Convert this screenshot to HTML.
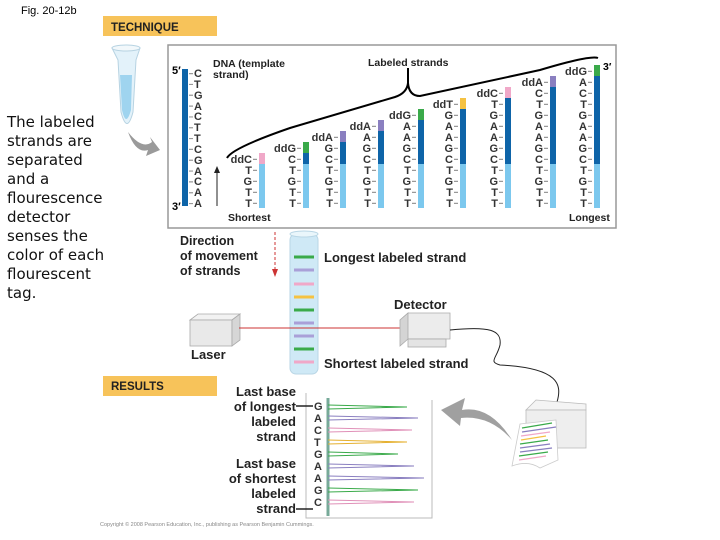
<!DOCTYPE html>
<html><head><meta charset="utf-8"><style>
html,body{margin:0;padding:0;background:#fff}
svg{display:block;font-family:"Liberation Sans",Arial,sans-serif}
</style></head><body>
<svg width="720" height="540" viewBox="0 0 720 540" xmlns="http://www.w3.org/2000/svg">
<text x="21" y="14" font-size="11">Fig. 20-12b</text>
<rect x="103" y="16" width="114" height="20" fill="#f7c35a"/>
<text x="111" y="31" font-size="11.5" font-weight="bold" fill="#222">TECHNIQUE</text>
<rect x="103" y="376" width="114" height="20" fill="#f7c35a"/>
<text x="111" y="390" font-size="11.5" font-weight="bold" fill="#222">RESULTS</text>

<g font-size="15" fill="#111" font-family="'DejaVu Sans',sans-serif">
<text x="7" y="127">The labeled</text><text x="7" y="146">strands are</text><text x="7" y="165">separated</text><text x="7" y="184">and a</text><text x="7" y="203">flourescence</text><text x="7" y="222">detector</text><text x="7" y="241">senses the</text><text x="7" y="260">color of each</text><text x="7" y="279">flourescent</text><text x="7" y="298">tag.</text>
</g>

<!-- tube -->
<path d="M112,48 L140,48 L136,60 L133,112 Q127,135 121,112 L118,60 Z" fill="#e3f2fa" stroke="#b7d3e2"/>
<path d="M120,75 L132,75 L131,110 Q126,128 122,110 Z" fill="#9fd4ef"/>
<ellipse cx="126" cy="48" rx="14" ry="3" fill="#f2f8fb" stroke="#b7d3e2"/>
<path d="M128,132 Q142,150 152,142 L150,137 L160,150 L146,156 L148,150 Q136,154 128,132 Z" fill="#9a9a9a"/>

<!-- top box -->
<rect x="168" y="45" width="448" height="183" fill="none" stroke="#999" stroke-width="1.5"/>
<text x="172" y="74" font-size="11" font-weight="bold">5′</text>
<text x="172" y="210" font-size="11" font-weight="bold">3′</text>
<rect x="182" y="69" width="6" height="137" fill="#0e64a8"/>
<line x1="191" y1="73" x2="191" y2="206" stroke="#999" stroke-width="4" stroke-dasharray="1.2 9.63"/>
<text font-size="11" font-weight="bold" fill="#333" x="194 194 194 194 194 194 194 194 194 194 194 194 194" y="77 88 99 110 120 131 142 153 164 175 185 196 207">CTGACTTCGACAA</text>
<text x="213" y="67" font-size="10.5" font-weight="bold" fill="#222">DNA (template</text>
<text x="213" y="78" font-size="10.5" font-weight="bold" fill="#222">strand)</text>
<text x="368" y="66" font-size="10.5" font-weight="bold" fill="#222">Labeled strands</text>
<path d="M227,158 Q232,148 290,128 L395,97 Q407,93 408,83 L408,68 M408,83 Q409,96 420,96 L540,70 Q590,55 598,58" fill="none" stroke="#000" stroke-width="2"/>
<line x1="217" y1="206" x2="217" y2="172" stroke="#222" stroke-width="1"/>
<path d="M214,173 L217,166 L220,173 Z" fill="#222"/>
<text x="228" y="221" font-size="10.5" font-weight="bold" fill="#222">Shortest</text>
<text x="569" y="221" font-size="10.5" font-weight="bold" fill="#222">Longest</text>
<text x="603" y="70" font-size="10.5" font-weight="bold">3′</text>

<g>
<rect x="259" y="164" width="6" height="44" fill="#7cc8ee"/><rect x="259" y="153" width="6" height="11" fill="#f0a8c8"/>
<rect x="303" y="164" width="6" height="44" fill="#7cc8ee"/><rect x="303" y="153" width="6" height="11" fill="#0e64a8"/><rect x="303" y="142" width="6" height="11" fill="#3aaa4a"/>
<rect x="340" y="164" width="6" height="44" fill="#7cc8ee"/><rect x="340" y="142" width="6" height="22" fill="#0e64a8"/><rect x="340" y="131" width="6" height="11" fill="#8a7fc0"/>
<rect x="378" y="164" width="6" height="44" fill="#7cc8ee"/><rect x="378" y="131" width="6" height="33" fill="#0e64a8"/><rect x="378" y="120" width="6" height="11" fill="#8a7fc0"/>
<rect x="418" y="164" width="6" height="44" fill="#7cc8ee"/><rect x="418" y="120" width="6" height="44" fill="#0e64a8"/><rect x="418" y="109" width="6" height="11" fill="#3aaa4a"/>
<rect x="460" y="164" width="6" height="44" fill="#7cc8ee"/><rect x="460" y="109" width="6" height="55" fill="#0e64a8"/><rect x="460" y="98" width="6" height="11" fill="#f5c242"/>
<rect x="505" y="164" width="6" height="44" fill="#7cc8ee"/><rect x="505" y="98" width="6" height="66" fill="#0e64a8"/><rect x="505" y="87" width="6" height="11" fill="#f0a8c8"/>
<rect x="550" y="164" width="6" height="44" fill="#7cc8ee"/><rect x="550" y="87" width="6" height="77" fill="#0e64a8"/><rect x="550" y="76" width="6" height="11" fill="#8a7fc0"/>
<rect x="594" y="164" width="6" height="44" fill="#7cc8ee"/><rect x="594" y="76" width="6" height="88" fill="#0e64a8"/><rect x="594" y="65" width="6" height="11" fill="#3aaa4a"/>
</g>
<g stroke="#999" stroke-width="4" stroke-dasharray="1.2 9.8">
<line x1="255" y1="204" x2="255" y2="150"/><line x1="299" y1="204" x2="299" y2="140"/><line x1="336" y1="204" x2="336" y2="129"/><line x1="374" y1="204" x2="374" y2="118"/><line x1="414" y1="204" x2="414" y2="107"/><line x1="456" y1="204" x2="456" y2="96"/><line x1="501" y1="204" x2="501" y2="85"/><line x1="546" y1="204" x2="546" y2="74"/><line x1="590" y1="204" x2="590" y2="63"/>
</g>
<g font-size="11" font-weight="bold" fill="#333" text-anchor="end">
<text x="252 252 252 252" y="207 196 185 174">TTGT</text><text x="252" y="163">ddC</text>
<text x="296 296 296 296 296" y="207 196 185 174 163">TTGTC</text><text x="296" y="152">ddG</text>
<text x="333 333 333 333 333 333" y="207 196 185 174 163 152">TTGTCG</text><text x="333" y="141">ddA</text>
<text x="371 371 371 371 371 371 371" y="207 196 185 174 163 152 141">TTGTCGA</text><text x="371" y="130">ddA</text>
<text x="411 411 411 411 411 411 411 411" y="207 196 185 174 163 152 141 130">TTGTCGAA</text><text x="411" y="119">ddG</text>
<text x="453 453 453 453 453 453 453 453 453" y="207 196 185 174 163 152 141 130 119">TTGTCGAAG</text><text x="453" y="108">ddT</text>
<text x="498 498 498 498 498 498 498 498 498 498" y="207 196 185 174 163 152 141 130 119 108">TTGTCGAAGT</text><text x="498" y="97">ddC</text>
<text x="543 543 543 543 543 543 543 543 543 543 543" y="207 196 185 174 163 152 141 130 119 108 97">TTGTCGAAGTC</text><text x="543" y="86">ddA</text>
<text x="587 587 587 587 587 587 587 587 587 587 587 587" y="207 196 185 174 163 152 141 130 119 108 97 86">TTGTCGAAGTCA</text><text x="587" y="75">ddG</text>
</g>

<!-- middle -->
<text x="180" y="245" font-size="12.5" font-weight="bold" fill="#222">Direction</text>
<text x="180" y="260" font-size="12.5" font-weight="bold" fill="#222">of movement</text>
<text x="180" y="275" font-size="12.5" font-weight="bold" fill="#222">of strands</text>
<line x1="275" y1="232" x2="275" y2="270" stroke="#c33" stroke-width="1" stroke-dasharray="3 2"/>
<path d="M272,269 L275,277 L278,269 Z" fill="#c33"/>
<rect x="290" y="234" width="28" height="140" rx="6" fill="#cfe9f6" stroke="#b9d6e5"/>
<ellipse cx="304" cy="234" rx="14" ry="3" fill="#eaf6fb" stroke="#b9d6e5"/>
<g stroke-width="3">
<line x1="294" y1="257" x2="314" y2="257" stroke="#3aaa4a"/>
<line x1="294" y1="270" x2="314" y2="270" stroke="#a9a0d8"/>
<line x1="294" y1="284" x2="314" y2="284" stroke="#f0a8c8"/>
<line x1="294" y1="297" x2="314" y2="297" stroke="#f5c242"/>
<line x1="294" y1="310" x2="314" y2="310" stroke="#3aaa4a"/>
<line x1="294" y1="323" x2="314" y2="323" stroke="#a9a0d8"/>
<line x1="294" y1="336" x2="314" y2="336" stroke="#a9a0d8"/>
<line x1="294" y1="349" x2="314" y2="349" stroke="#3aaa4a"/>
<line x1="294" y1="362" x2="314" y2="362" stroke="#f0a8c8"/>
</g>
<text x="324" y="262" font-size="13" font-weight="bold" fill="#222">Longest labeled strand</text>
<text x="394" y="309" font-size="13" font-weight="bold" fill="#222">Detector</text>
<text x="324" y="368" font-size="13" font-weight="bold" fill="#222">Shortest labeled strand</text>
<text x="191" y="359" font-size="13" font-weight="bold" fill="#222">Laser</text>
<!-- laser -->
<path d="M190,320 L232,320 L240,314 L198,314 Z" fill="#f2f2f2" stroke="#aaa" stroke-width="0.8"/>
<rect x="190" y="320" width="42" height="26" fill="#e9e9e9" stroke="#aaa" stroke-width="0.8"/>
<path d="M232,320 L240,314 L240,340 L232,346 Z" fill="#d6d6d6" stroke="#aaa" stroke-width="0.8"/>
<line x1="239" y1="328" x2="406" y2="328" stroke="#c33" stroke-width="1"/>
<!-- detector -->
<path d="M400,320 L408,313 L450,313 L450,339 L408,339 Z" fill="#ececec" stroke="#aaa" stroke-width="0.8"/>
<path d="M400,320 L408,313 L408,339 L400,346 Z" fill="#d4d4d4" stroke="#aaa" stroke-width="0.8"/>
<rect x="408" y="339" width="38" height="8" fill="#e4e4e4" stroke="#aaa" stroke-width="0.8"/>
<path d="M450,330 C490,326 502,330 500,345 C497,358 488,362 500,365 C560,368 562,385 557,402" fill="none" stroke="#222" stroke-width="1"/>
<!-- printer -->
<path d="M526,410 L536,400 L586,404 L586,410 Z" fill="#f4f4f4" stroke="#bbb" stroke-width="0.8"/>
<rect x="526" y="410" width="60" height="38" fill="#eeeeee" stroke="#bbb" stroke-width="0.8"/>
<path d="M520,424 L556,420 L558,460 L540,468 Q528,460 512,466 Z" fill="#fff" stroke="#ccc" stroke-width="0.8"/>
<g stroke-width="1.3">
<line x1="522" y1="428" x2="552" y2="423" stroke="#3aaa4a"/><line x1="522" y1="432" x2="556" y2="427" stroke="#8a7fc0"/><line x1="521" y1="436" x2="550" y2="432" stroke="#f0a8c8"/><line x1="521" y1="440" x2="546" y2="436" stroke="#f5c242"/><line x1="520" y1="444" x2="548" y2="440" stroke="#3aaa4a"/><line x1="520" y1="448" x2="550" y2="444" stroke="#8a7fc0"/><line x1="520" y1="452" x2="552" y2="448" stroke="#8a7fc0"/><line x1="519" y1="456" x2="548" y2="452" stroke="#3aaa4a"/><line x1="519" y1="460" x2="546" y2="456" stroke="#f0a8c8"/>
</g>
<path d="M512,440 Q490,405 462,410 L465,398 L441,410 L460,426 L461,418 Q490,415 512,440 Z" fill="#a0a0a0"/>

<!-- results chart -->
<path d="M306,393 L306,518 L432,518 L432,400" fill="none" stroke="#bbb" stroke-width="1"/>
<text x="296" y="396" font-size="13" font-weight="bold" fill="#222" text-anchor="end">Last base</text>
<text x="296" y="411" font-size="13" font-weight="bold" fill="#222" text-anchor="end">of longest</text>
<text x="296" y="426" font-size="13" font-weight="bold" fill="#222" text-anchor="end">labeled</text>
<text x="296" y="441" font-size="13" font-weight="bold" fill="#222" text-anchor="end">strand</text>
<text x="296" y="468" font-size="13" font-weight="bold" fill="#222" text-anchor="end">Last base</text>
<text x="296" y="483" font-size="13" font-weight="bold" fill="#222" text-anchor="end">of shortest</text>
<text x="296" y="498" font-size="13" font-weight="bold" fill="#222" text-anchor="end">labeled</text>
<text x="296" y="513" font-size="13" font-weight="bold" fill="#222" text-anchor="end">strand</text>
<line x1="296" y1="406" x2="313" y2="406" stroke="#222" stroke-width="1.5"/>
<line x1="296" y1="509" x2="313" y2="509" stroke="#222" stroke-width="1.5"/>
<text font-size="11" font-weight="bold" fill="#333" x="314 314 314 314 314 314 314 314 314" y="410 422 434 446 458 470 482 494 506">GACTGAAGC</text>
<line x1="328" y1="398" x2="328" y2="516" stroke="#7a9" stroke-width="3"/>
<g fill="none" stroke-width="1">
<path d="M328,405 L407,407 L328,409" stroke="#3aaa4a"/>
<path d="M328,416 L418,418 L328,420" stroke="#8a7fc0"/>
<path d="M328,428 L412,430 L328,432" stroke="#e090b8"/>
<path d="M328,440 L407,442 L328,444" stroke="#e5b030"/>
<path d="M328,452 L398,454 L328,456" stroke="#3aaa4a"/>
<path d="M328,464 L414,466 L328,468" stroke="#8a7fc0"/>
<path d="M328,476 L424,478 L328,480" stroke="#8a7fc0"/>
<path d="M328,488 L418,490 L328,492" stroke="#3aaa4a"/>
<path d="M328,500 L414,502 L328,504" stroke="#e090b8"/>
</g>
<text x="100" y="526" font-size="5.5" fill="#888">Copyright © 2008 Pearson Education, Inc., publishing as Pearson Benjamin Cummings.</text>
</svg>
</body></html>
